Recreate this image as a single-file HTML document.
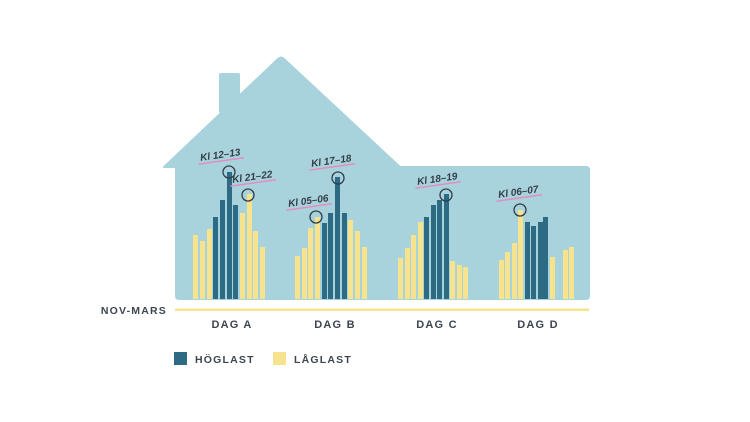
<!DOCTYPE html>
<html><head><meta charset="utf-8"><style>
html,body{margin:0;padding:0;background:#fff;}
svg{display:block}
.t{font-family:"Liberation Sans",sans-serif;font-weight:bold;fill:#3d4650;letter-spacing:1.2px}
.h{font-family:"Liberation Sans",sans-serif;font-style:italic;font-weight:bold;fill:#333d48;font-size:10px}
</style></head><body>
<svg width="750" height="422" viewBox="0 0 750 422" xmlns="http://www.w3.org/2000/svg">
<rect x="219" y="73" width="21" height="40" rx="2" fill="#a8d3dc"/>
<path d="M164,167 L278,59 Q281,56 284,59 L400,167 L586,167 Q589,167 589,170 L589,296 Q589,299 586,299 L179,299 Q176,299 176,296 L176,167 Z" fill="#a8d3dc" stroke="#a8d3dc" stroke-width="2" stroke-linejoin="round"/>
<g id="bars"></g>
<rect x="175" y="308.5" width="414" height="2.5" fill="#f7e38d"/>
<text class="t" x="167" y="314" font-size="10.5" text-anchor="end">NOV-MARS</text>
<text class="t" x="232" y="328" font-size="11" text-anchor="middle">DAG A</text>
<text class="t" x="335" y="328" font-size="11" text-anchor="middle">DAG B</text>
<text class="t" x="437" y="328" font-size="11" text-anchor="middle">DAG C</text>
<text class="t" x="538" y="328" font-size="11" text-anchor="middle">DAG D</text>
<rect x="174" y="352" width="13" height="13" fill="#2d6b85"/>
<text class="t" x="195" y="363" font-size="10.5">HÖGLAST</text>
<rect x="273" y="352" width="13" height="13" fill="#f7e38d"/>
<text class="t" x="294" y="363" font-size="10.5">LÅGLAST</text>
<g id="ann"></g>
</svg>
<script>
var Y='#f7e38d',D='#2d6b85',B=299;
var bars=[
[193,235,Y],[200,241,Y],[207,229,Y],[213,217,D],[220,200,D],[227,172,D],[233,205,D],[240,213,Y],[247,194,Y],[253,231,Y],[260,247,Y],
[295,256,Y],[302,248,Y],[308,228,Y],[315,217,Y],[322,223,D],[328,213,D],[335,177,D],[342,213,D],[348,220,Y],[355,231,Y],[362,247,Y],
[398,258,Y],[405,248,Y],[411,235,Y],[418,222,Y],[424,217,D],[431,205,D],[437,200,D],[444,194,D],[450,261,Y],[457,265,Y],[463,267,Y],
[499,260,Y],[505,252,Y],[512,243,Y],[518,210,Y],[525,222,D],[531,226,D],[538,222,D],[543,217,D],[550,257,Y],[563,250,Y],[569,247,Y]];
var s='';bars.forEach(function(b){s+='<rect x="'+b[0]+'" y="'+b[1]+'" width="5" height="'+(B-b[1])+'" fill="'+b[2]+'"/>';});
document.getElementById('bars').innerHTML=s;
var ann=[["Kl 12–13",221,160,229,172],["Kl 21–22",253,182,248,195],["Kl 05–06",309,206,316,217],["Kl 17–18",332,166,338,178],["Kl 18–19",438,184,446,195],["Kl 06–07",519,197,520,210]];
var a='';ann.forEach(function(n){
a+='<g transform="rotate(-8 '+n[1]+' '+n[2]+')"><text class="h" x="'+n[1]+'" y="'+(n[2]-2)+'" text-anchor="middle">'+n[0]+'</text><line x1="'+(n[1]-23)+'" y1="'+(n[2]+1)+'" x2="'+(n[1]+23)+'" y2="'+(n[2]+1)+'" stroke="#e58bc4" stroke-width="1.5"/></g>';
a+='<circle cx="'+n[3]+'" cy="'+n[4]+'" r="6" fill="none" stroke="#333d48" stroke-width="1.3"/>';});
document.getElementById('ann').innerHTML=a;
</script>
</body></html>
